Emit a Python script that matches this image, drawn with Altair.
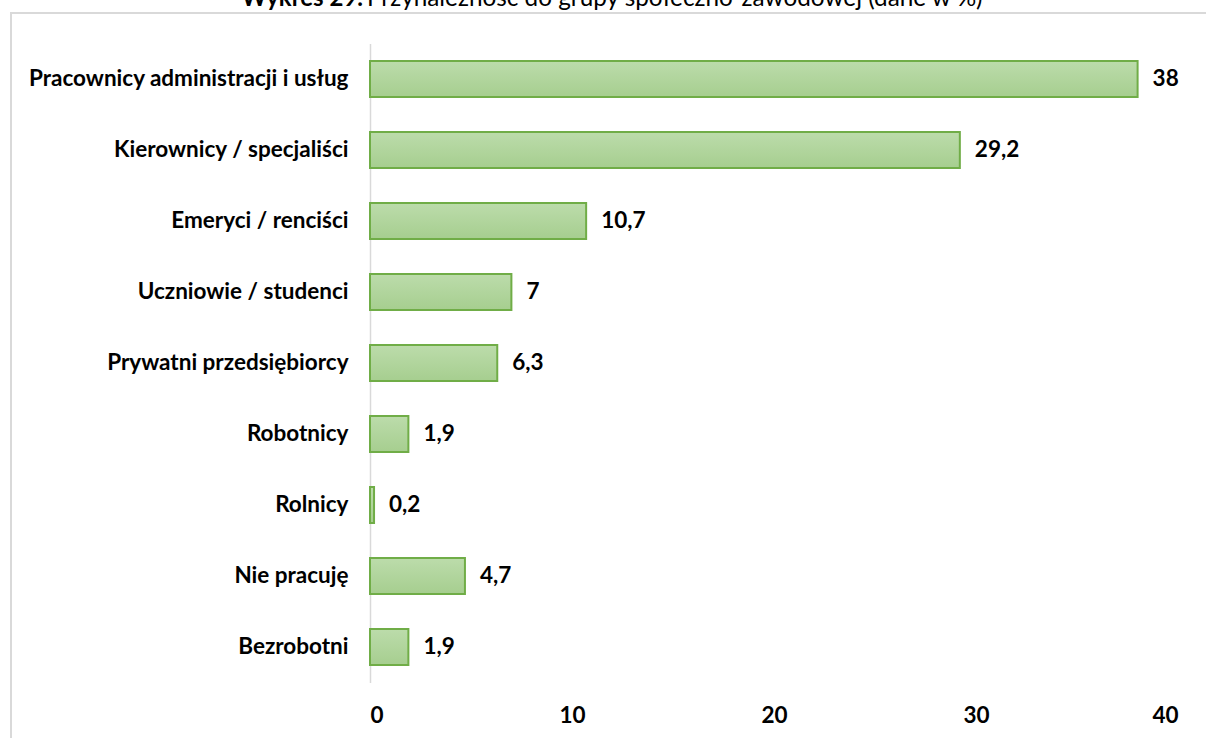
import altair as alt
import pandas as pd

categories = [
    "Pracownicy administracji i usług",
    "Kierownicy / specjaliści",
    "Emeryci / renciści",
    "Uczniowie / studenci",
    "Prywatni przedsiębiorcy",
    "Robotnicy",
    "Rolnicy",
    "Nie pracuję",
    "Bezrobotni",
]
values = [38, 29.2, 10.7, 7, 6.3, 1.9, 0.2, 4.7, 1.9]
x_ticks = [0, 10, 20, 30, 40]
title_bold = "Wykres 29."
title_rest = "Przynależność do grupy społeczno-zawodowej (dane w %)"

FONT = "Lato"
FS = 22.5

df = pd.DataFrame({
    "kat": categories,
    "val": values,
    "lab": [str(v).replace(".", ",") for v in values],
})

y_enc = alt.Y(
    "kat:N",
    sort=categories,
    scale=alt.Scale(paddingInner=0.49, paddingOuter=0.245),
    axis=alt.Axis(
        title=None, ticks=False, domainColor="#d9d9d9", domainWidth=1.5,
        labelFont=FONT, labelFontWeight="bold", labelFontSize=FS,
        labelColor="#000000", labelPadding=22, labelLimit=0,
    ),
)
x_enc = alt.X(
    "val:Q",
    scale=alt.Scale(domain=[0, 40], nice=False),
    axis=alt.Axis(
        title=None, values=x_ticks, grid=False, domain=False, ticks=False,
        labelFont=FONT, labelFontWeight="bold", labelFontSize=FS,
        labelColor="#000000", labelPadding=22, format="d",
    ),
)

bars = alt.Chart(df).mark_bar(
    color=alt.Gradient(
        gradient="linear", x1=0, y1=0, x2=0, y2=1,
        stops=[alt.GradientStop(color="#bcdcab", offset=0),
               alt.GradientStop(color="#a6ce8f", offset=1)],
    ),
    stroke="#70ad47", strokeWidth=2,
).encode(x=x_enc, y=y_enc)

labels = alt.Chart(df).mark_text(
    align="left", baseline="middle", dx=15, font=FONT, fontWeight="bold",
    fontSize=FS, color="#000000",
).encode(x="val:Q", y=alt.Y("kat:N", sort=categories), text="lab:N")

one = pd.DataFrame({"a": [0]})
border = alt.Chart(one).mark_rect(
    fill=None, stroke="#d9d9d9", strokeWidth=2
).encode(x=alt.value(-359), x2=alt.value(1000), y=alt.value(-30.5), y2=alt.value(900))

t1 = alt.Chart(one).mark_text(
    align="right", baseline="alphabetic", font=FONT, fontWeight="bold",
    fontSize=24, color="#000000",
).encode(x=alt.value(-7), y=alt.value(-38), text=alt.value(title_bold))
t2 = alt.Chart(one).mark_text(
    align="left", baseline="alphabetic", font=FONT, fontWeight="normal",
    fontSize=24.3, color="#000000",
).encode(x=alt.value(-3), y=alt.value(-38), text=alt.value(title_rest))

chart = alt.layer(border, bars, labels, t1, t2).properties(
    width=808, height=639,
    padding={"left": 370, "top": 43.5, "right": 28, "bottom": 55.5},
    autosize=alt.AutoSizeParams(type="none"),
    background="#ffffff",
).configure_view(stroke=None)

chart.save("out.html", embed_options={"renderer": "svg", "actions": False})
